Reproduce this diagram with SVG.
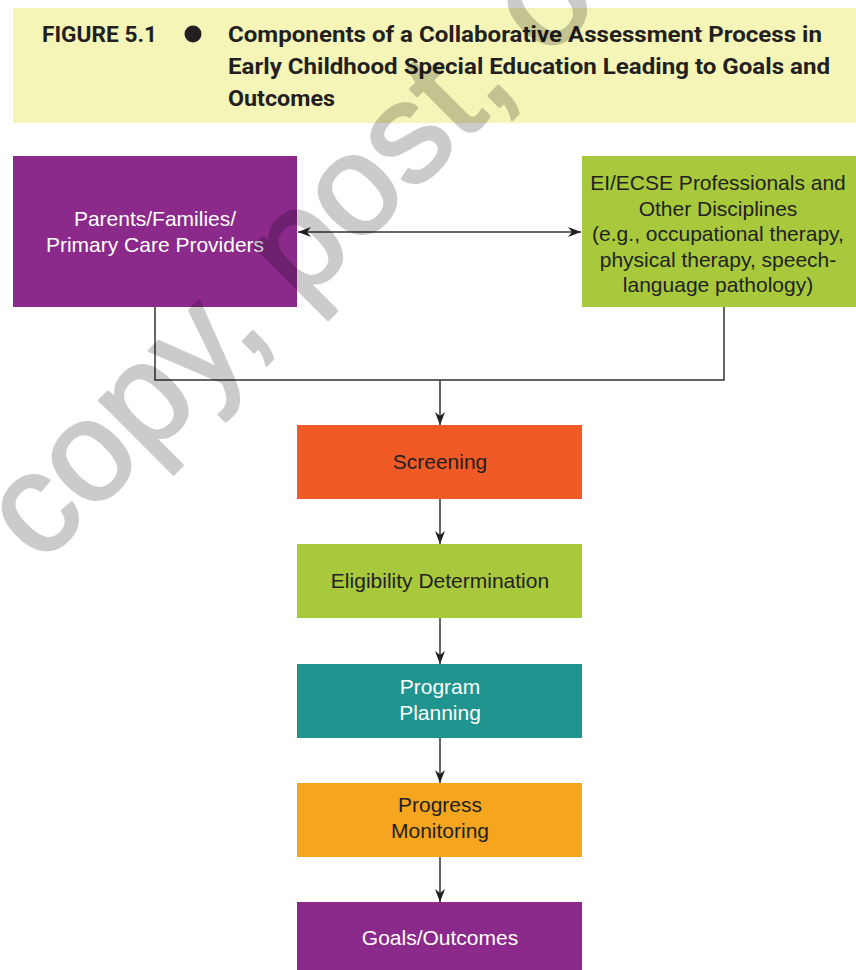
<svg xmlns="http://www.w3.org/2000/svg" width="856" height="970" viewBox="0 0 856 970">
<defs>
<style>
.hdr{font-family:Roboto,"Liberation Sans",sans-serif;font-weight:700;font-size:22px;fill:#231f20}
.lbl{font-family:"Liberation Sans",Arial,sans-serif;font-size:21px;text-anchor:middle}
.dark{fill:#231f20}
.light{fill:#ffffff}
.conn{fill:none;stroke:#333333;stroke-width:1.5}
.wm{font-family:"Liberation Sans",Arial,sans-serif;font-size:142px;fill:#000;stroke:#000;stroke-width:3;stroke-linejoin:round}
</style>
<marker id="ah" markerUnits="userSpaceOnUse" viewBox="0 0 13 10" markerWidth="13" markerHeight="10" refX="13" refY="5" orient="auto-start-reverse">
<path d="M0,0 L13,5 L0,10 L4,5 Z" fill="#231f20"/>
</marker>
</defs>
<rect width="856" height="970" fill="#ffffff"/>
<g id="header">
<rect x="13" y="8" width="843" height="115" fill="#f5f5b8"/>
<text class="hdr" x="42" y="42" textLength="115" lengthAdjust="spacingAndGlyphs">FIGURE 5.1</text>
<circle cx="193" cy="34" r="8.5" fill="#231f20"/>
<text class="hdr" x="228" y="42" textLength="594" lengthAdjust="spacingAndGlyphs">Components of a Collaborative Assessment Process in</text>
<text class="hdr" x="228" y="74" textLength="602" lengthAdjust="spacingAndGlyphs">Early Childhood Special Education Leading to Goals and</text>
<text class="hdr" x="228" y="106" textLength="107" lengthAdjust="spacingAndGlyphs">Outcomes</text>
</g>
<g id="parents">
<rect x="13" y="156" width="284" height="151" fill="#8b2a8b"/>
<text class="lbl light" x="155" y="226">Parents/Families/</text>
<text class="lbl light" x="155" y="252">Primary Care Providers</text>
</g>
<g id="professionals">
<rect x="582" y="156" width="274" height="151" fill="#a7c93b"/>
<text class="lbl dark" x="718" y="190">EI/ECSE Professionals and</text>
<text class="lbl dark" x="718" y="216">Other Disciplines</text>
<text class="lbl dark" x="718" y="241">(e.g., occupational therapy,</text>
<text class="lbl dark" x="718" y="267">physical therapy, speech-</text>
<text class="lbl dark" x="718" y="292">language pathology)</text>
</g>
<g id="screening">
<rect x="297" y="425" width="285" height="74" fill="#ef5a26"/>
<text class="lbl dark" x="440" y="469">Screening</text>
</g>
<g id="eligibility">
<rect x="297" y="544" width="285" height="74" fill="#a7c93b"/>
<text class="lbl dark" x="440" y="588">Eligibility Determination</text>
</g>
<g id="planning">
<rect x="297" y="664" width="285" height="74" fill="#20958f"/>
<text class="lbl light" x="440" y="694">Program</text>
<text class="lbl light" x="440" y="720">Planning</text>
</g>
<g id="monitoring">
<rect x="297" y="783" width="285" height="74" fill="#f5a51e"/>
<text class="lbl dark" x="440" y="812">Progress</text>
<text class="lbl dark" x="440" y="838">Monitoring</text>
</g>
<g id="goals">
<rect x="297" y="902" width="285" height="68" fill="#8b2a8b"/>
<text class="lbl light" x="440" y="945">Goals/Outcomes</text>
</g>
<g id="connectors">
<line class="conn" x1="298" y1="232" x2="581" y2="232" marker-start="url(#ah)" marker-end="url(#ah)"/>
<polyline class="conn" points="155,307 155,380 724,380 724,307"/>
<line class="conn" x1="440" y1="380" x2="440" y2="425" marker-end="url(#ah)"/>
<line class="conn" x1="440" y1="499" x2="440" y2="544" marker-end="url(#ah)"/>
<line class="conn" x1="440" y1="618" x2="440" y2="664" marker-end="url(#ah)"/>
<line class="conn" x1="440" y1="738" x2="440" y2="783" marker-end="url(#ah)"/>
<line class="conn" x1="440" y1="857" x2="440" y2="902" marker-end="url(#ah)"/>
</g>
<g id="watermark" opacity="0.2">
<text class="wm" transform="translate(40,566) rotate(-45)">copy, post, o</text>
</g>
</svg>
